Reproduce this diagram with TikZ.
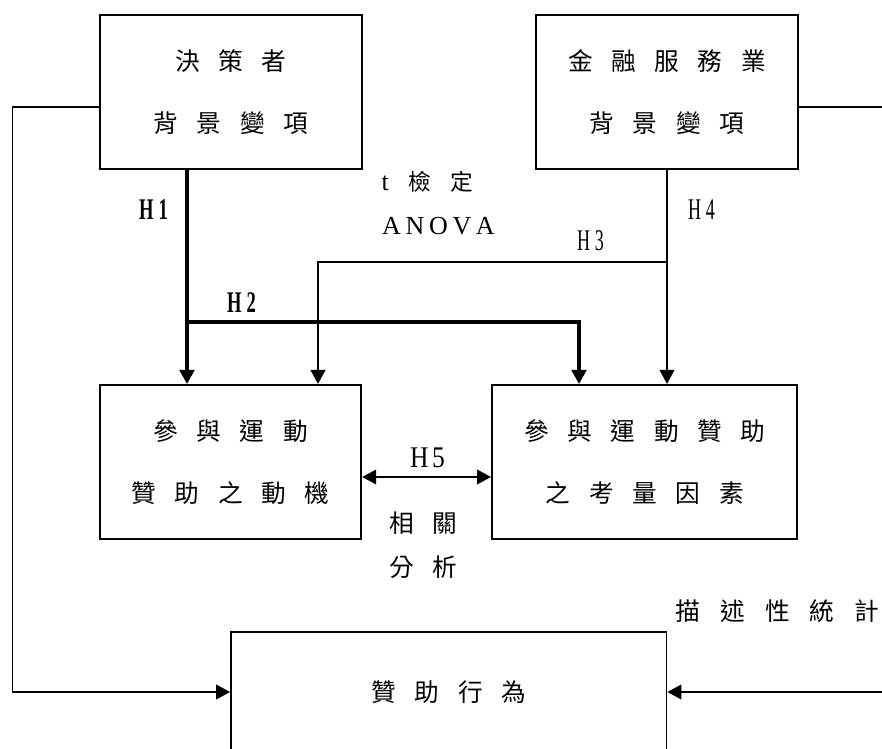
\documentclass[tikz,border=0pt]{standalone}
\usepackage{graphicx}
\usepackage{fontspec}
\setmainfont{Liberation Serif}
\newfontfamily\cjk{Noto Sans CJK TC}
\usetikzlibrary{arrows.meta,calc}
\newcommand\cg{\hspace{14pt}}
\newcommand\cgw{\hspace{15pt}}
\begin{document}
\begin{tikzpicture}[x=0.75pt,y=-0.75pt,
  box/.style={draw,line width=1.6pt,rectangle,inner sep=0pt,align=center,
    font=\cjk\fontsize{18.5}{46.5}\selectfont},
  thinln/.style={line width=1.3pt},
  thickln/.style={line width=2.3pt},
  tip/.style={-{Triangle[width=11pt,length=10.5pt]}},
  both/.style={{Triangle[width=11pt,length=10.5pt]}-{Triangle[width=11pt,length=10.5pt]}},
  lab/.style={inner sep=0pt},
  cjklab/.style={inner sep=0pt,font=\cjk\fontsize{18.5}{22}\selectfont}
]
\useasboundingbox (0,0) rectangle (882,749);
\clip (0,0) rectangle (882,749);

% boxes
\node[box,minimum width=196.5pt,minimum height=115.5pt] (A) at (231,92)
  {決\cg 策\cg 者\\背\cg 景\cg 變\cg 項};
\node[box,minimum width=196.5pt,minimum height=115.5pt] (B) at (667,92)
  {金\cg 融\cg 服\cg 務\cg 業\\背\cg 景\cg 變\cg 項};
\node[box,minimum width=196pt,minimum height=115.5pt] (C) at (230.5,462)
  {參\cg 與\cg 運\cg 動\\贊\cg 助\cg 之\cg 動\cg 機};
\node[box,minimum width=229pt,minimum height=115.5pt] (D) at (644.75,462)
  {參\cg 與\cg 運\cg 動\cg 贊\cg 助\\之\cg 考\cg 量\cg 因\cg 素};
\node[box,line width=1.3pt,minimum width=326.6pt,minimum height=90pt] (E) at (448.75,692)
  {贊\cg 助\cg 行\cg 為};

% helper coordinates
\coordinate (xh1) at (187,0);
\coordinate (xh2) at (579,0);
\coordinate (xh3) at (318,0);
\coordinate (yh2) at (0,322);
\coordinate (yh3) at (0,262);
\coordinate (yh5) at (0,477);
\coordinate (lt) at (12.5,107);
\coordinate (lb) at (12.5,692);
\coordinate (rt) at (886,107);
\coordinate (rb) at (886,692);

% connectors
\draw[thickln,tip] (A.south -| xh1) -- (C.north -| xh1);
\draw[thickln,tip] (xh1 |- yh2) -- (xh2 |- yh2) -- (D.north -| xh2);
\draw[thinln,tip] (B.south |- yh3) -- (xh3 |- yh3) -- (C.north -| xh3);
\draw[thinln,tip] (B.south) -- (B.south |- D.north);
\draw[thinln,both] (C.east |- yh5) -- (D.west |- yh5);
\draw[thinln,tip] (A.west |- lt) -- (lt) -- (lb) -- (E.west);
\draw[thinln,tip] (B.east |- rt) -- (rt) -- (rb) -- (E.east);

% labels
\node[lab] (h1) at (153.5,210) {\bfseries\fontsize{22.5}{24}\selectfont\scalebox{0.62}[1]{H\kern6pt 1}};
\node[lab] (h2) at (241.5,302.5) {\bfseries\fontsize{22.5}{24}\selectfont\scalebox{0.62}[1]{H\kern6pt 2}};
\node[lab] (h3) at (590.5,241) {\fontsize{22.5}{24}\selectfont\scalebox{0.6}[1]{H\kern6pt 3}};
\node[lab] (h4) at (701.5,210) {\fontsize{22.5}{24}\selectfont\scalebox{0.6}[1]{H\kern6pt 4}};
\node[lab] (h5) at (427.5,458) {\fontsize{22.5}{24}\selectfont\scalebox{0.85}[1]{H\kern3pt 5}};

\node[lab] (tt) at (427.5,182) {\fontsize{19.5}{22}\selectfont t\hspace{15pt}{\cjk\fontsize{17}{20}\selectfont 檢\hspace{14.5pt}定}};
\node[lab] (anova) at (438.5,226) {\fontsize{19.5}{22}\selectfont A\kern3.5pt N\kern3.5pt O\kern3.5pt V\kern3.5pt A};
\node[cjklab] (r1) at (423,523) {相\cg 關};
\node[cjklab] (r2) at (423,567) {分\cg 析};
\node[cjklab] (desc) at (777.5,611) {描\cgw 述\cgw 性\cgw 統\cgw 計};
\end{tikzpicture}
\end{document}
